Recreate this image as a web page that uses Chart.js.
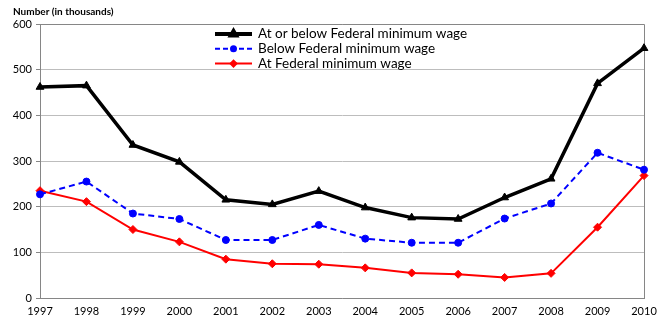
<!DOCTYPE html>
<html><head><meta charset="utf-8">
<script src="https://cdn.jsdelivr.net/npm/chart.js@4/dist/chart.umd.min.js"></script>
<style>html,body{margin:0;padding:0;background:#fff}#wrap{width:666px;height:331px}</style>
</head><body><div id="wrap"><canvas id="c" width="666" height="331"></canvas></div>
<script>
const years = ['1997','1998','1999','2000','2001','2002','2003','2004','2005','2006','2007','2008','2009','2010'];
const atOrBelow = [462,465,335,298,215,205,234,198,176,173,220,261,470,547];
const below = [227,255,185,173,127,127,160,130,121,121,174,207,318,281];
const atMin = [235,211,150,123,85,75,74,66,55,52,45,54,155,268];
const seriesNames = ['At or below Federal minimum wage','Below Federal minimum wage','At Federal minimum wage'];
const yTicks = [0,100,200,300,400,500,600];
const yTitle = 'Number (in thousands)';
const FONT = "Lato, 'Open Sans', sans-serif";
const legendMarkerRadius = [3, 2.5, 3];

const extras = {
  id:'extras',
  beforeDatasetsDraw(chart){
    const a = chart.chartArea, ctx = chart.ctx;
    ctx.save();
    ctx.strokeStyle = '#868686'; ctx.lineWidth = 1;
    ctx.beginPath();
    ctx.moveTo(a.left, a.top+0.5); ctx.lineTo(a.right+0.5, a.top+0.5); ctx.lineTo(a.right+0.5, a.bottom);
    ctx.stroke();
    ctx.restore();
  },
  afterDraw(chart){
    const ctx = chart.ctx;
    ctx.save();
    ctx.fillStyle = '#000';
    ctx.font = "bold 10px " + FONT;
    ctx.textBaseline = 'middle';
    ctx.fillText(yTitle, 13, 12);
    ctx.font = "13.5px " + FONT;
    chart.data.datasets.forEach((ds, i) => {
      const y = 34 + i*14.8;
      const x0 = 215, x1 = 252;
      ctx.strokeStyle = ds.borderColor; ctx.lineWidth = ds.borderWidth + (i===0?0.5:0);
      ctx.setLineDash(ds.borderDash ? [5,3] : []);
      ctx.beginPath(); ctx.moveTo(x0, y); ctx.lineTo(x1, y); ctx.stroke();
      ctx.setLineDash([]);
      ctx.fillStyle = ds.backgroundColor;
      ctx.strokeStyle = ds.borderColor;
      Chart.helpers.drawPoint(ctx, {pointStyle: ds.pointStyle, radius: legendMarkerRadius[i], borderWidth: 1}, (x0+x1)/2, y);
      ctx.fillStyle = '#000';
      ctx.fillText(ds.label, 258, y);
    });
    ctx.restore();
  }
};

new Chart(document.getElementById('c'), {
  type:'line',
  data:{
    labels: years,
    datasets:[
      {label: seriesNames[0], data: atOrBelow, borderColor:'#000', backgroundColor:'#000', borderWidth:3.5, pointStyle:'triangle', pointRadius:4.5, pointBorderWidth:1, tension:0},
      {label: seriesNames[1], data: below, borderColor:'#0000ff', backgroundColor:'#0000ff', borderWidth:2, borderDash:[6,4], pointStyle:'circle', pointRadius:3.5, pointBorderWidth:1, tension:0},
      {label: seriesNames[2], data: atMin, borderColor:'#ff0000', backgroundColor:'#ff0000', borderWidth:2, pointStyle:'rectRot', pointRadius:4, pointBorderWidth:1, tension:0}
    ]
  },
  options:{
    responsive:false, animation:false,
    layout:{padding:{left:0, right:22, top:24, bottom:0}},
    plugins:{legend:{display:false}, tooltip:{enabled:false}},
    scales:{
      x:{
        offset:false,
        grid:{display:false, drawOnChartArea:false, drawTicks:true, tickLength:5, tickColor:'#868686'},
        border:{color:'#868686', width:1},
        ticks:{color:'#000', font:{family:FONT, size:11}, padding:2, maxRotation:0, autoSkip:false},
        afterFit(s){ s.height = 33; }
      },
      y:{
        min:0, max:600,
        afterBuildTicks(s){ s.ticks = yTicks.map(v=>({value:v})); },
        grid:{color:'#bdbdbd', tickColor:'#868686', tickLength:4, drawTicks:true},
        border:{color:'#868686', width:1},
        ticks:{color:'#000', font:{family:FONT, size:11}, padding:4},
        afterFit(s){ s.width = 40; }
      }
    }
  },
  plugins:[extras]
});
</script></body></html>
